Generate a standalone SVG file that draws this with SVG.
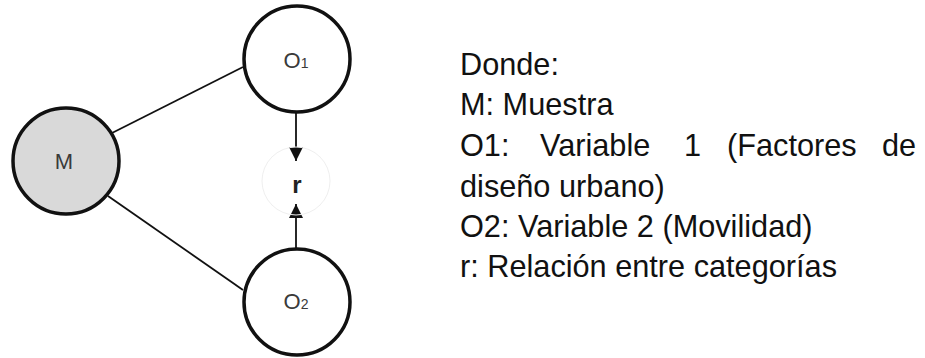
<svg xmlns="http://www.w3.org/2000/svg" width="925" height="358" viewBox="0 0 925 358">
  <style>
    .node { stroke: #111; stroke-width: 3.5; fill: #fff; }
    .lbl { font-family: "Liberation Sans", Arial, sans-serif; fill: #3a3a3a; text-anchor: middle; }
    .edge { stroke: #111; stroke-width: 1.8; fill: none; }
    .legend { font-family: "Liberation Sans", Arial, sans-serif; font-size: 30.7px; fill: #111; }
  </style>
  <defs>
    <marker id="arrow" markerUnits="userSpaceOnUse" markerWidth="14" markerHeight="14" refX="14" refY="7" orient="auto">
      <path d="M0,0 L14,7 L0,14 z" fill="#111"/>
    </marker>
  </defs>
  <rect width="925" height="358" fill="#fff"/>

  <g id="connectors">
    <line class="edge" x1="112" y1="133" x2="243" y2="67"/>
    <line class="edge" x1="108" y1="196" x2="243" y2="290"/>
    <line class="edge" x1="296" y1="112" x2="296" y2="161" marker-end="url(#arrow)"/>
    <line class="edge" x1="296" y1="249" x2="296" y2="204" marker-end="url(#arrow)"/>
  </g>

  <g id="node-M">
    <circle class="node" cx="66" cy="161" r="53" style="fill:#d9d9d9"/>
    <text class="lbl" x="64" y="169" font-size="22">M</text>
  </g>
  <g id="node-O1">
    <circle class="node" cx="297" cy="59" r="53"/>
    <text class="lbl" x="296" y="68" font-size="22">O<tspan font-size="14">1</tspan></text>
  </g>
  <g id="node-O2">
    <circle class="node" cx="297" cy="302" r="53"/>
    <text class="lbl" x="296" y="309" font-size="22">O<tspan font-size="14">2</tspan></text>
  </g>
  <g id="node-r">
    <circle cx="296" cy="181" r="34" fill="none" stroke="#efefef" stroke-width="1"/>
    <text class="lbl" x="297" y="193" font-size="24" font-weight="bold" style="fill:#222">r</text>
  </g>

  <g id="legend">
    <text class="legend" x="460" y="75">Donde:</text>
    <text class="legend" x="460" y="115">M: Muestra</text>
    <text class="legend" y="156"><tspan x="460">O1:</tspan><tspan x="540">Variable</tspan><tspan x="684">1</tspan><tspan x="727">(Factores</tspan><tspan x="882">de</tspan></text>
    <text class="legend" x="460" y="197">diseño urbano)</text>
    <text class="legend" x="460" y="237">O2: Variable 2 (Movilidad)</text>
    <text class="legend" x="460" y="277">r: Relación entre categorías</text>
  </g>
</svg>
